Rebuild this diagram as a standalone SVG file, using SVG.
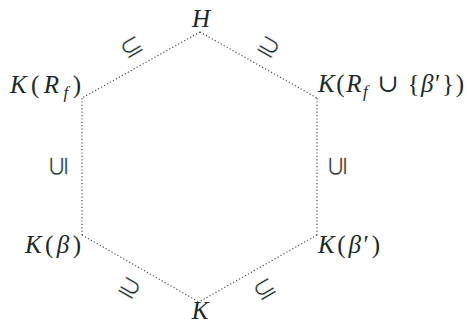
<svg xmlns="http://www.w3.org/2000/svg" width="467" height="323" viewBox="0 0 467 323">
<style>
.lbl{font-family:"Liberation Serif","DejaVu Serif",serif;font-size:25px;fill:#1a2a2a}
.it{font-style:italic}
.sub{font-size:17px;font-style:italic}
.rel{font-family:"DejaVu Sans","Noto Sans",sans-serif;font-size:27px;fill:#1a2a2a;stroke:#fff;stroke-width:0.45;text-anchor:middle;dominant-baseline:central}
.edge{stroke:#3a4444;stroke-width:1.1;stroke-dasharray:1.2 2.2;fill:none}
</style>
<rect width="467" height="323" fill="#fff"/>
<g id="connectors">
<path class="edge" d="M200,32 L82,98"/>
<path class="edge" d="M200,32 L317,98"/>
<path class="edge" d="M82,98 L82,235"/>
<path class="edge" d="M317,98 L317,235"/>
<path class="edge" d="M82,235 L199,302"/>
<path class="edge" d="M317,235 L199,302"/>
<text class="rel" transform="translate(131,46) rotate(-30)">⊆</text>
<text class="rel" transform="translate(269,46) rotate(30)">⊇</text>
<text class="rel" transform="translate(57,166) rotate(-90)">⊆</text>
<text class="rel" transform="translate(336,166) rotate(-90)">⊆</text>
<text class="rel" transform="translate(130,287) rotate(30)">⊇</text>
<text class="rel" transform="translate(264,288) rotate(-30)">⊆</text>
</g>
<g id="H"><text class="lbl it" x="201" y="27" text-anchor="middle">H</text></g>
<g id="KRf"><text class="lbl" x="10" y="93" textLength="71"><tspan class="it">K</tspan>(<tspan class="it">R</tspan><tspan class="sub" dy="5">f</tspan><tspan dy="-5">)</tspan></text></g>
<g id="KRfb"><text class="lbl" x="318" y="92" textLength="146"><tspan class="it">K</tspan>(<tspan class="it">R</tspan><tspan class="sub" dy="5">f</tspan><tspan dy="-5"> ∪ {</tspan><tspan class="it">β</tspan>′})</text></g>
<g id="Kb"><text class="lbl" x="25" y="253" textLength="56"><tspan class="it">K</tspan>(<tspan class="it">β</tspan>)</text></g>
<g id="Kbp"><text class="lbl" x="318" y="253" textLength="62"><tspan class="it">K</tspan>(<tspan class="it">β</tspan>′)</text></g>
<g id="K"><text class="lbl it" x="200" y="319" text-anchor="middle">K</text></g>
</svg>
